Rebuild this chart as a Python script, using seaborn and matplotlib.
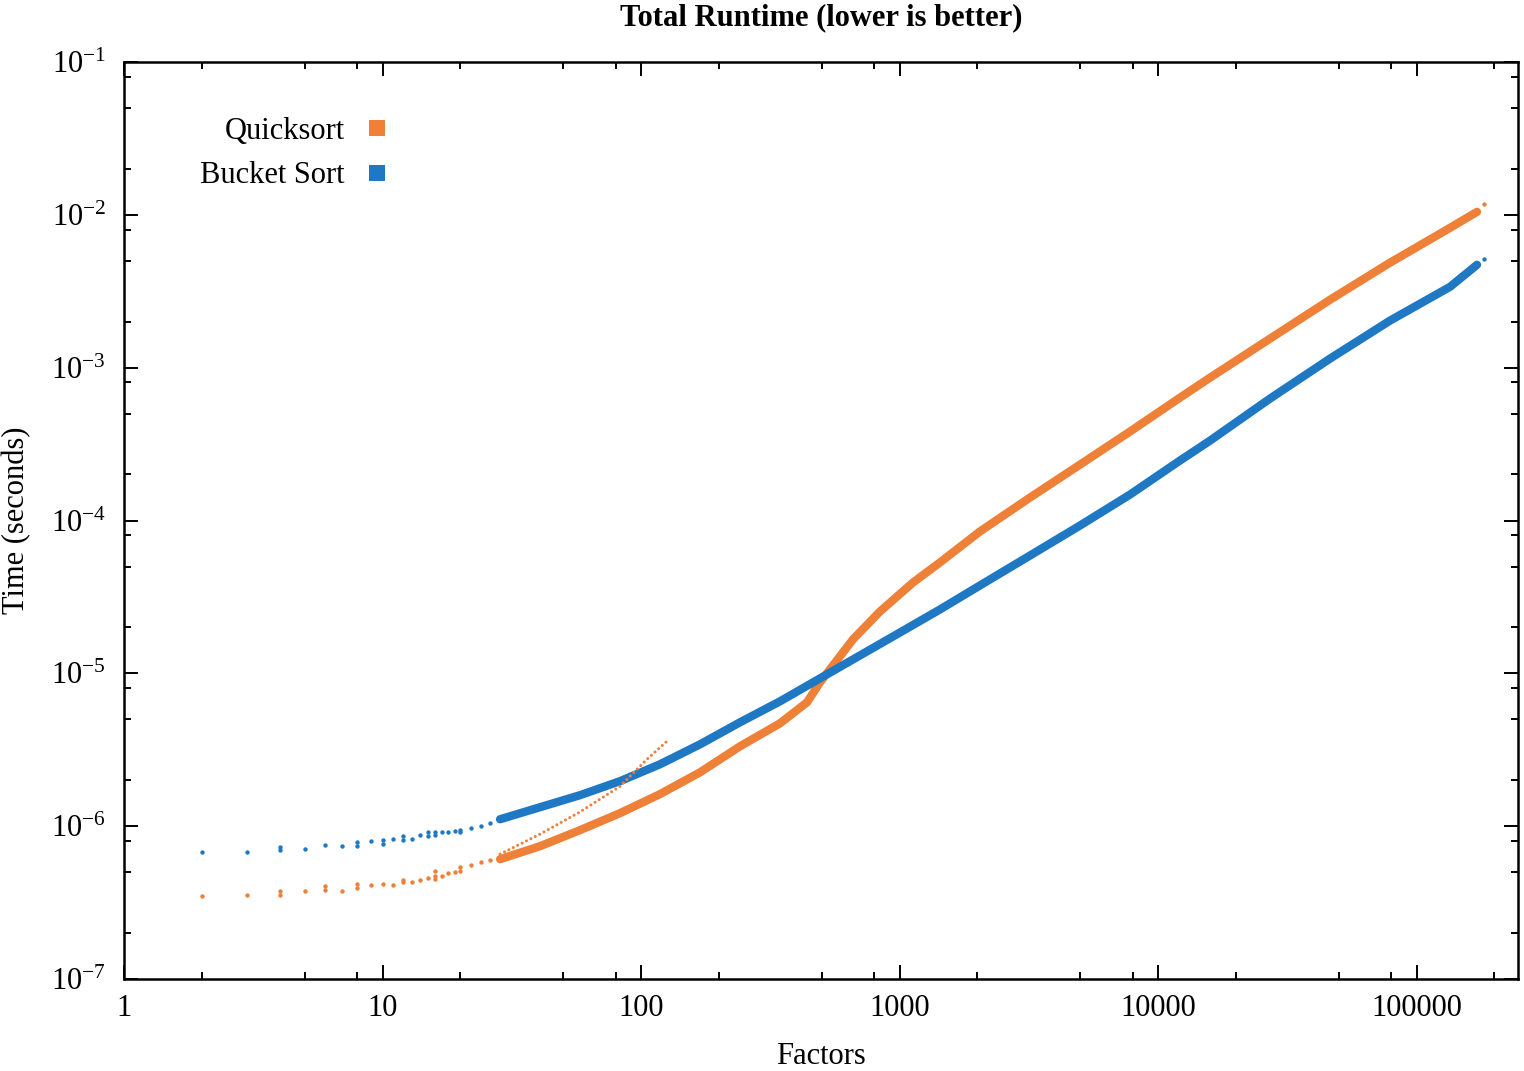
import numpy as np
import matplotlib
matplotlib.use("Agg")
import matplotlib.pyplot as plt
from matplotlib.ticker import LogLocator, FixedLocator, FuncFormatter, NullFormatter
from matplotlib.lines import Line2D
import seaborn as sns

# colours of the two series
quick_color = "#EE8038"
bucket_color = "#1E78C3"

# small inputs: single visible dots (n, seconds)
quick_sparse_n = [2, 3, 4, 4, 5, 6, 6, 7, 8, 8, 9, 10, 11, 12, 12, 13, 14, 15,
                  16, 16, 16, 17, 18, 19, 20, 20, 22, 24, 26]
quick_sparse_t = [3.51e-7, 3.54e-7, 3.78e-7, 3.54e-7, 3.78e-7, 4.04e-7, 3.84e-7,
                  3.78e-7, 4.18e-7, 3.92e-7, 4.11e-7, 4.18e-7, 4.15e-7, 4.43e-7,
                  4.33e-7, 4.33e-7, 4.45e-7, 4.57e-7, 5.06e-7, 4.73e-7, 4.51e-7,
                  4.69e-7, 4.93e-7, 5.03e-7, 5.10e-7, 5.40e-7, 5.60e-7, 5.82e-7,
                  6.00e-7]

bucket_sparse_n = [2, 3, 4, 4, 5, 6, 7, 8, 8, 9, 10, 10, 11, 12, 12, 13, 14, 15,
                   15, 16, 16, 17, 18, 19, 20, 20, 22, 24, 26]
bucket_sparse_t = [6.73e-7, 6.73e-7, 7.30e-7, 7.00e-7, 7.10e-7, 7.50e-7, 7.40e-7,
                   7.90e-7, 7.40e-7, 8.00e-7, 8.10e-7, 7.70e-7, 8.20e-7, 8.65e-7,
                   8.15e-7, 8.20e-7, 8.70e-7, 9.10e-7, 8.60e-7, 9.20e-7, 8.70e-7,
                   9.20e-7, 9.10e-7, 9.30e-7, 9.50e-7, 9.20e-7, 9.80e-7, 1.01e-6,
                   1.05e-6]

# larger inputs: dense band of runs (band centre)
quick_band_n = [28.5, 40.7, 58.1, 82.9, 118.4, 169.1, 241.5, 345, 438.7, 492.6,
                661, 840.6, 1128, 1435, 2048, 3198, 4991, 7793, 12170, 15890,
                27100, 46250, 78900, 134800, 171400]
quick_band_t = [6.08e-7, 7.40e-7, 9.42e-7, 1.216e-6, 1.62e-6, 2.25e-6, 3.33e-6,
                4.71e-6, 6.46e-6, 8.73e-6, 1.67e-5, 2.54e-5, 3.93e-5, 5.32e-5,
                8.48e-5, 1.413e-4, 2.32e-4, 3.82e-4, 6.37e-4, 8.60e-4, 1.547e-3,
                2.78e-3, 4.86e-3, 8.22e-3, 1.046e-2]

bucket_band_n = [28.5, 40.7, 58.1, 82.9, 118.4, 169.1, 241.5, 345, 492.6, 703.5,
                 1004, 1435, 2048, 3198, 4991, 7793, 12170, 15890, 27100, 46250,
                 78900, 134800, 171400]
bucket_band_t = [1.11e-6, 1.331e-6, 1.595e-6, 1.97e-6, 2.54e-6, 3.43e-6, 4.78e-6,
                 6.56e-6, 9.27e-6, 1.31e-5, 1.85e-5, 2.62e-5, 3.76e-5, 5.90e-5,
                 9.27e-5, 1.478e-4, 2.47e-4, 3.33e-4, 6.27e-4, 1.145e-3, 2.03e-3,
                 3.38e-3, 4.71e-3]

# second quicksort branch between ~30 and ~125
quick_branch_n = [28.5, 40.7, 58.1, 82.9, 105.5, 126.1]
quick_branch_t = [6.56e-7, 8.87e-7, 1.24e-6, 1.82e-6, 2.74e-6, 3.60e-6]

# last run of each algorithm
quick_end_n = [182400]
quick_end_t = [1.18e-2]
bucket_end_n = [182400]
bucket_end_t = [5.16e-3]

x_ticks = [1, 10, 100, 1000, 10000, 100000]
y_ticks = [1e-7, 1e-6, 1e-5, 1e-4, 1e-3, 1e-2, 1e-1]

sns.set_theme(style="ticks")
plt.rcParams["font.family"] = ["Liberation Serif", "DejaVu Serif"]
plt.rcParams["mathtext.fontset"] = "custom"
plt.rcParams["mathtext.rm"] = "Liberation Serif"
plt.rcParams["mathtext.it"] = "Liberation Serif:italic"
plt.rcParams["text.color"] = "black"
plt.rcParams["axes.labelcolor"] = "black"
plt.rcParams["xtick.color"] = "black"
plt.rcParams["ytick.color"] = "black"

fig = plt.figure(figsize=(15.24, 10.71), dpi=100)
ax = fig.add_axes([124 / 1524, 1 - 979 / 1071, 1394 / 1524, 917 / 1071])

ax.set_xscale("log")
ax.set_yscale("log")

# dense bands (bucket sort drawn on top, as in the original)
sns.lineplot(x=quick_band_n, y=quick_band_t, color=quick_color, lw=6.0,
             estimator=None, sort=False, ax=ax, solid_capstyle="round",
             solid_joinstyle="round")
sns.lineplot(x=bucket_band_n, y=bucket_band_t, color=bucket_color, lw=6.0,
             estimator=None, sort=False, ax=ax, solid_capstyle="round",
             solid_joinstyle="round")

sns.lineplot(x=quick_branch_n, y=quick_branch_t, color=quick_color, lw=2.2,
             ls=(0, (0.01, 1.6)), dash_capstyle="round", estimator=None,
             sort=False, ax=ax)

for n, t, c in [(quick_sparse_n, quick_sparse_t, quick_color),
                (bucket_sparse_n, bucket_sparse_t, bucket_color),
                (quick_end_n, quick_end_t, quick_color),
                (bucket_end_n, bucket_end_t, bucket_color)]:
    sns.scatterplot(x=n, y=t, color=c, s=10, linewidth=0, ax=ax)

ax.set_xlim(1, 10 ** (1394 / 258.5))
ax.set_ylim(1e-7, 1e-1)

ax.xaxis.set_major_locator(FixedLocator(x_ticks))
ax.xaxis.set_major_formatter(FuncFormatter(lambda v, p: f"{int(round(v))}"))
ax.xaxis.set_minor_locator(LogLocator(base=10, subs=[2, 5, 8], numticks=50))
ax.xaxis.set_minor_formatter(NullFormatter())
ax.yaxis.set_major_locator(FixedLocator(y_ticks))
ax.yaxis.set_major_formatter(
    FuncFormatter(lambda v, p: f"$10^{{{int(round(np.log10(v)))}}}$"))
ax.yaxis.set_minor_locator(LogLocator(base=10, subs=[2, 5, 8], numticks=50))
ax.yaxis.set_minor_formatter(NullFormatter())

ax.tick_params(which="both", direction="in", top=True, right=True,
               colors="black", width=1.4)
ax.tick_params(which="major", length=10, labelsize=22)
ax.tick_params(axis="x", which="major", pad=11)
ax.tick_params(axis="y", which="major", pad=13)
ax.tick_params(which="minor", length=5)
for s in ax.spines.values():
    s.set_linewidth(1.8)
    s.set_color("black")
ax.set_xlabel("")
ax.set_ylabel("")
ax.grid(False)

handles = [Line2D([], [], ls="none", marker="s", markersize=11.5,
                  markerfacecolor=quick_color, markeredgewidth=0),
           Line2D([], [], ls="none", marker="s", markersize=11.5,
                  markerfacecolor=bucket_color, markeredgewidth=0)]
ax.legend(handles, ["Quicksort", "Bucket Sort"], loc="upper right",
          bbox_to_anchor=((392 - 124) / 1394, (979 - 117) / 917),
          frameon=False, markerfirst=False, fontsize=22, handlelength=1.0,
          handletextpad=0.55, labelspacing=0.5, borderpad=0, borderaxespad=0)

fig.text(821 / 1524, 1 - 18 / 1071, "Total Runtime (lower is better)",
         ha="center", va="center", fontsize=22, fontweight="bold")
fig.text(821 / 1524, 1 - 1057 / 1071, "Factors", ha="center", va="center",
         fontsize=22)
fig.text(17 / 1524, 1 - 520 / 1071, "Time (seconds)", ha="center",
         va="center", rotation=90, fontsize=22)

fig.savefig("out.png", dpi=100)
